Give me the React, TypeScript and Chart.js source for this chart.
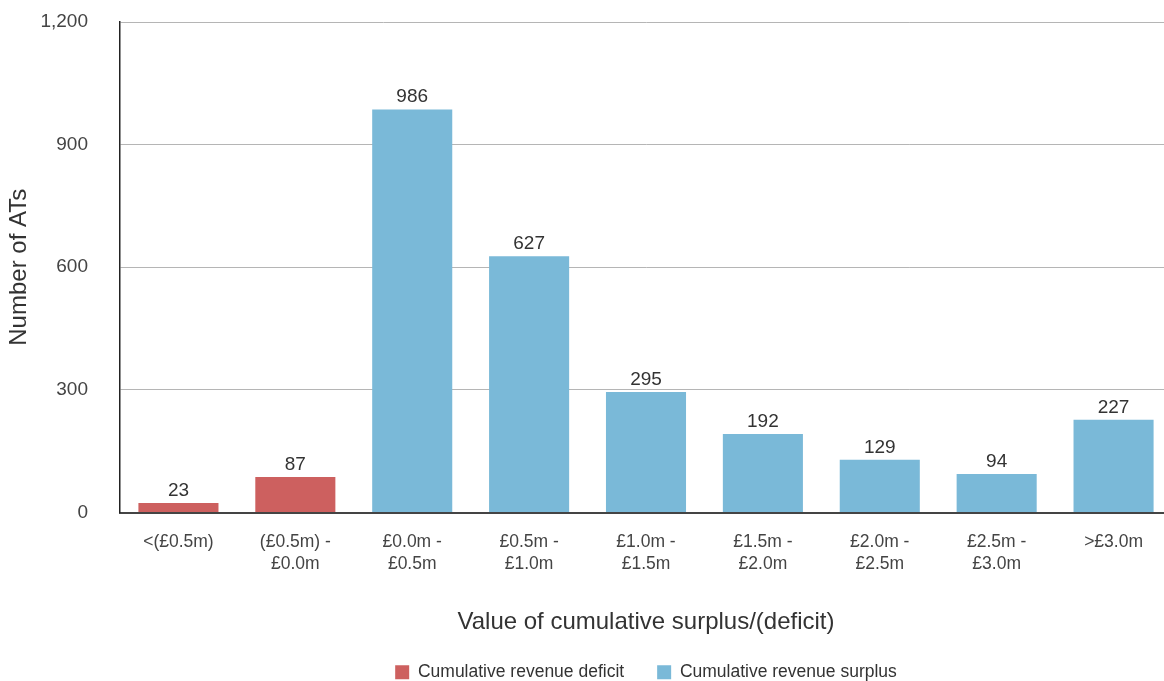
import React, { useEffect, useRef } from "react";
import { Chart, registerables } from "chart.js";

Chart.register(...registerables);

const categories: string[][] = [
  ["<(£0.5m)"],
  ["(£0.5m) -", "£0.0m"],
  ["£0.0m -", "£0.5m"],
  ["£0.5m -", "£1.0m"],
  ["£1.0m -", "£1.5m"],
  ["£1.5m -", "£2.0m"],
  ["£2.0m -", "£2.5m"],
  ["£2.5m -", "£3.0m"],
  [">£3.0m"],
];
const deficitValues: (number | null)[] = [23, 87, null, null, null, null, null, null, null];
const surplusValues: (number | null)[] = [null, null, 986, 627, 295, 192, 129, 94, 227];
const yMin = 0;
const yMax = 1200;
const yStep = 300;

const FONT = "'Liberation Sans', Arial, Helvetica, sans-serif";
const TEXT = "#333333";

const valueLabels = {
  id: "valueLabels",
  afterDatasetsDraw(chart: any) {
    const ctx = chart.ctx;
    ctx.save();
    ctx.font = `19px ${FONT}`;
    ctx.fillStyle = TEXT;
    ctx.textAlign = "center";
    ctx.textBaseline = "alphabetic";
    chart.data.datasets.forEach((ds: any, di: number) => {
      const meta = chart.getDatasetMeta(di);
      meta.data.forEach((bar: any, i: number) => {
        const v = ds.data[i];
        if (v === null || v === undefined) return;
        ctx.fillText(String(v), bar.x, bar.y - 7);
      });
    });
    ctx.restore();
  },
};

export default function App() {
  const ref = useRef<HTMLCanvasElement | null>(null);
  useEffect(() => {
    if (!ref.current) return;
    const chart = new Chart(ref.current, {
      type: "bar",
      data: {
        labels: categories,
        datasets: [
          {
            label: "Cumulative revenue deficit",
            data: deficitValues,
            backgroundColor: "#CD605F",
            grouped: false,
            barPercentage: 0.685,
            categoryPercentage: 1,
          },
          {
            label: "Cumulative revenue surplus",
            data: surplusValues,
            backgroundColor: "#7AB9D8",
            grouped: false,
            barPercentage: 0.685,
            categoryPercentage: 1,
          },
        ] as any,
      },
      options: {
        animation: false,
        responsive: true,
        maintainAspectRatio: false,
        layout: { padding: { top: 22, right: 0, left: 0, bottom: 0 } },
        plugins: {
          tooltip: { enabled: false },
          legend: {
            position: "bottom",
            fullSize: false,
            labels: {
              boxWidth: 14,
              boxHeight: 14,
              padding: 33,
              color: TEXT,
              font: { family: FONT, size: 17.5 },
            },
          },
        },
        scales: {
          x: {
            grid: { display: false, drawTicks: false },
            border: { display: true, color: "#444444", width: 2 },
            ticks: {
              color: "#444444",
              padding: 19,
              maxRotation: 0,
              autoSkip: false,
              font: { family: FONT, size: 17.5, lineHeight: 1.25 },
            },
            title: {
              display: true,
              text: "Value of cumulative surplus/(deficit)",
              color: TEXT,
              font: { family: FONT, size: 24, lineHeight: 1 },
              padding: { top: 0, bottom: -4 },
            },
            afterFit: (scale: any) => {
              scale.height = 118;
            },
          },
          y: {
            min: yMin,
            max: yMax,
            grid: { color: "#b5b5b5", lineWidth: 1, drawTicks: false },
            border: { display: true, color: "#222222", width: 1.5 },
            ticks: {
              stepSize: yStep,
              color: "#444444",
              padding: 32,
              font: { family: FONT, size: 19 },
              callback: (v: any) => Number(v).toLocaleString("en-US"),
            },
            title: {
              display: true,
              text: "Number of ATs",
              color: TEXT,
              font: { family: FONT, size: 24, lineHeight: 1.2 },
              padding: { top: 5, bottom: 0 },
            },
            afterFit: (scale: any) => {
              scale.width = 120;
              scale.paddingTop = 0;
              scale.paddingBottom = 0;
            },
          },
        },
      },
      plugins: [valueLabels],
    });
    return () => chart.destroy();
  }, []);
  return (
    <div style={{ position: "fixed", left: 0, top: 0, width: 1172, height: 691 }}>
      <canvas ref={ref} />
    </div>
  );
}
